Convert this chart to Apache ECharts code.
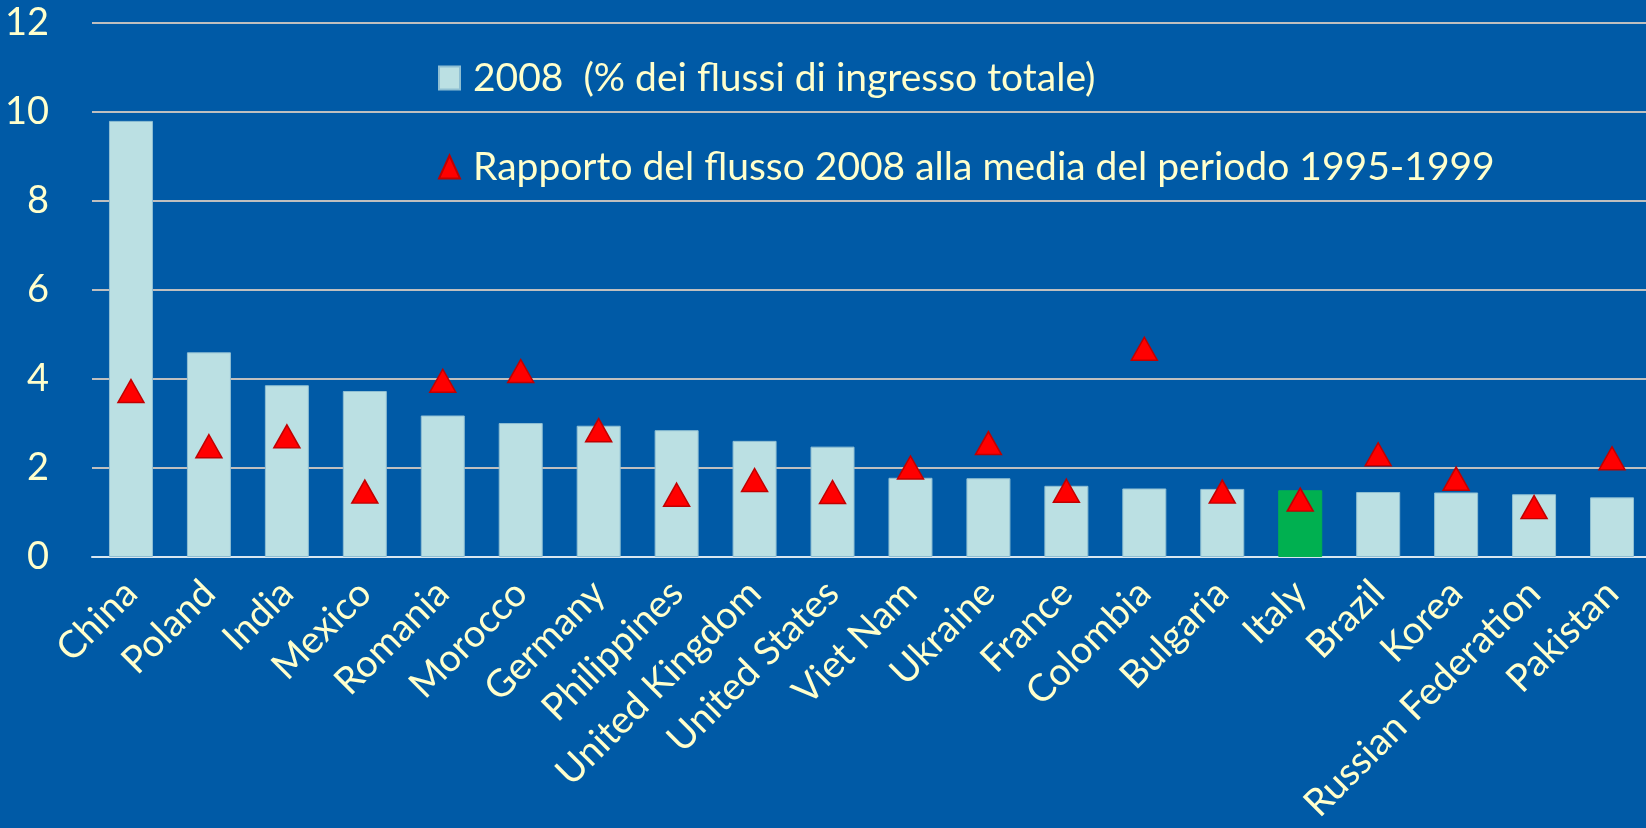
<!DOCTYPE html>
<html>
<head>
<meta charset="utf-8">
<script src="https://cdn.jsdelivr.net/npm/echarts@6/dist/echarts.min.js"></script>
<style>
html, body { margin: 0; padding: 0; background: #005AA6; }
#main { width: 1646px; height: 828px; }
</style>
</head>
<body>
<div id="main"></div>
<script>
// paesi (asse x)
const categories = ['China', 'Poland', 'India', 'Mexico', 'Romania', 'Morocco', 'Germany', 'Philippines',
  'United Kingdom', 'United States', 'Viet Nam', 'Ukraine', 'France', 'Colombia', 'Bulgaria', 'Italy',
  'Brazil', 'Korea', 'Russian Federation', 'Pakistan'];

// 2008, % dei flussi di ingresso totale
const share2008 = [9.8, 4.6, 3.86, 3.73, 3.18, 3.01, 2.95, 2.85, 2.61, 2.48,
  1.78, 1.77, 1.60, 1.54, 1.53, 1.50, 1.46, 1.45, 1.41, 1.34];

// rapporto flusso 2008 / media 1995-1999
const ratio = [3.73, 2.49, 2.71, 1.47, 3.96, 4.18, 2.85, 1.40, 1.73, 1.46,
  2.01, 2.56, 1.49, 4.68, 1.47, 1.29, 2.31, 1.76, 1.12, 2.22];

const barName = '2008  (% dei flussi di ingresso totale)';
const ratioName = 'Rapporto del flusso 2008 alla media del periodo 1995-1999';
const highlight = 'Italy';

const cream = '#FFFFCC';
const font = 'Lato';

var chart = echarts.init(document.getElementById('main'));

var option = {
  backgroundColor: '#005AA6',
  animation: false,
  textStyle: { fontFamily: font },
  grid: { left: 92, width: 1559, top: 23, bottom: 271, containLabel: false, outerBoundsMode: 'none' },
  legend: {
    orient: 'vertical',
    left: 433,
    top: 53,
    itemWidth: 21,
    itemHeight: 23,
    itemGap: 49,
    data: [
      { name: barName, icon: 'rect' },
      { name: ratioName, icon: 'triangle' }
    ],
    textStyle: { color: cream, fontSize: 39, fontFamily: font, lineHeight: 40, padding: [0, 0, 0, 8] }
  },
  xAxis: {
    type: 'category',
    data: categories,
    axisTick: { show: false },
    axisLine: { lineStyle: { color: '#D8E6F0', width: 2 } },
    axisLabel: {
      interval: 0,
      rotate: 45,
      margin: 30,
      color: cream,
      fontSize: 38,
      fontFamily: font
    }
  },
  yAxis: {
    type: 'value',
    min: 0,
    max: 12,
    interval: 2,
    axisLine: { show: false },
    axisTick: { show: false },
    splitLine: { lineStyle: { color: '#BFBFBF', width: 2 } },
    axisLabel: { color: cream, fontSize: 38, fontFamily: font, margin: 43 }
  },
  series: [
    {
      name: barName,
      type: 'bar',
      barWidth: 44,
      itemStyle: { color: '#BBE0E3', borderColor: '#8FBFD3', borderWidth: 1 },
      data: share2008.map(function (v, i) {
        if (categories[i] === highlight) {
          return { value: v, itemStyle: { color: '#00B050', borderColor: '#00B050' } };
        }
        return v;
      })
    },
    {
      name: ratioName,
      type: 'scatter',
      symbol: 'triangle',
      symbolSize: [26, 23],
      itemStyle: { color: '#FF0000', borderColor: '#C00000', borderWidth: 1.5, opacity: 1 },
      z: 5,
      data: ratio
    }
  ]
};

chart.setOption(option);
</script>
</body>
</html>
